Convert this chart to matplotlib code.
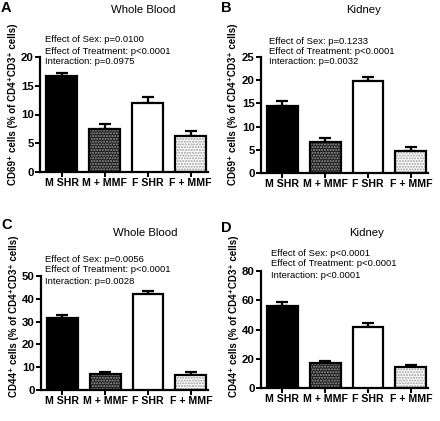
import numpy as np
import matplotlib
matplotlib.use("Agg")
import matplotlib.pyplot as plt

plt.rcParams['font.family'] = ['Liberation Sans', 'DejaVu Sans']

groups = ["M SHR", "M + MMF", "F SHR", "F + MMF"]

# panel data: means and SEM
cd69_blood = [16.7, 7.4, 12.0, 6.3]
cd69_blood_err = [0.6, 0.9, 1.1, 0.9]
cd69_kidney = [14.5, 6.6, 19.8, 4.8]
cd69_kidney_err = [1.0, 0.9, 0.9, 0.7]
cd44_blood = [31.5, 7.1, 42.0, 6.6]
cd44_blood_err = [1.5, 0.8, 1.5, 1.2]
cd44_kidney = [56.0, 17.0, 42.0, 14.2]
cd44_kidney_err = [2.5, 1.2, 2.5, 1.5]

stats_a = ["Effect of Sex: p=0.0100", "Effect of Treatment: p<0.0001", "Interaction: p=0.0975"]
stats_b = ["Effect of Sex: p=0.1233", "Effect of Treatment: p<0.0001", "Interaction: p=0.0032"]
stats_c = ["Effect of Sex: p=0.0056", "Effect of Treatment: p<0.0001", "Interaction: p=0.0028"]
stats_d = ["Effect of Sex: p<0.0001", "Effect of Treatment: p<0.0001", "Interaction: p<0.0001"]

W, H = 440, 421
fig = plt.figure(figsize=(W / 100, H / 100), dpi=100)


def px_axes(left, right, y0, ytop):
    return fig.add_axes([left / W, 1 - y0 / H, (right - left) / W, (y0 - ytop) / H])


def panel(ax, vals, errs, ymax, step):
    x = np.arange(len(groups))
    bw = 0.72
    fills = ["black", "#1c1c1c", "white", "white"]
    hatch_col = [None, "#9a9a9a", None, "#9a9a9a"]
    for i in range(len(groups)):
        if hatch_col[i]:
            ax.bar(x[i], vals[i], bw, color=fills[i], hatch="......",
                   edgecolor=hatch_col[i], linewidth=0, zorder=2)
        ax.bar(x[i], vals[i], bw, color=fills[i] if not hatch_col[i] else "none",
               edgecolor="black", linewidth=1.6, zorder=3)
    ax.errorbar(x, vals, yerr=[np.zeros(len(errs)), errs], fmt="none",
                ecolor="black", elinewidth=1.6, capsize=4.5, capthick=1.6, zorder=1)
    ax.set_xlim(-0.5, 3.4)
    ax.set_ylim(0, ymax)
    ax.set_yticks(np.arange(0, ymax + 0.1, step))
    ax.set_xticks(x)
    ax.set_xticklabels(groups, fontweight="bold", fontsize=7.6)
    for t in ax.get_yticklabels():
        t.set_fontweight("bold")
        t.set_fontsize(8.2)
    for s in ["top", "right"]:
        ax.spines[s].set_visible(False)
    for s in ["left", "bottom"]:
        ax.spines[s].set_linewidth(1.6)
    ax.tick_params(axis="both", direction="out", length=3.5, width=1.4, pad=1)


ax_a = px_axes(40, 208, 172, 57)
panel(ax_a, cd69_blood, cd69_blood_err, 20, 5)
ax_b = px_axes(261, 428, 173, 57)
panel(ax_b, cd69_kidney, cd69_kidney_err, 25, 5)
ax_c = px_axes(41, 208, 390, 276)
panel(ax_c, cd44_blood, cd44_blood_err, 50, 10)
ax_d = px_axes(261, 428, 388, 271)
panel(ax_d, cd44_kidney, cd44_kidney_err, 80, 20)


def ftext(x, y, s, **kw):
    fig.text(x / W, 1 - y / H, s, **kw)


# panel letters and titles
for lab, x, y in [("A", 1, 8), ("B", 221, 8), ("C", 1, 225), ("D", 221, 228)]:
    ftext(x, y, lab, fontsize=10.5, fontweight="bold", va="center", ha="left")
for title, x, y in [("Whole Blood", 143, 10), ("Kidney", 364, 10),
                    ("Whole Blood", 145, 233), ("Kidney", 367, 233)]:
    ftext(x, y, title, fontsize=8.2, va="center", ha="center")

# stats text
for lines, x, ys in [(stats_a, 45, [40, 51, 62]), (stats_b, 269, [41, 52, 62]),
                     (stats_c, 45, [259, 270, 281]), (stats_d, 271, [253, 264, 276])]:
    for s, y in zip(lines, ys):
        ftext(x, y, s, fontsize=6.8, va="center", ha="left")

# y labels
lab69 = "CD69\u207a cells (% of CD4\u207aCD3\u207a cells)"
lab44 = "CD44\u207a cells (% of CD4\u207aCD3\u207a cells)"
for s, x, y in [(lab69, 13, 104), (lab69, 233, 104), (lab44, 14, 316), (lab44, 234, 316)]:
    ftext(x, y, s, fontsize=7.0, fontweight="bold", rotation=90,
          va="center", ha="center")

fig.savefig("out.png", dpi=100)
